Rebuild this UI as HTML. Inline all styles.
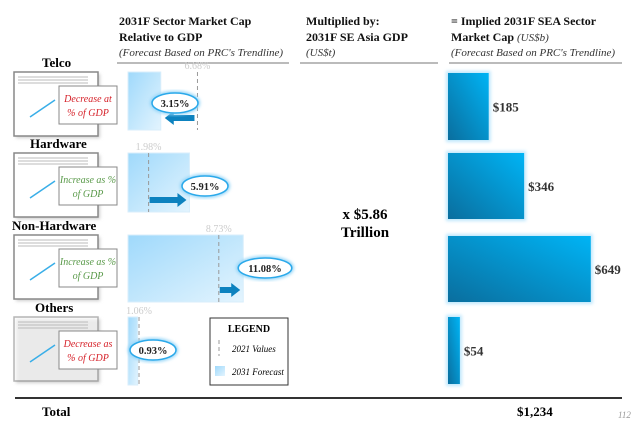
<!DOCTYPE html>
<html><head><meta charset="utf-8"><style>
body{margin:0;background:#fff;width:640px;height:433px;overflow:hidden;font-family:"Liberation Serif",serif}
svg{display:block}
</style></head><body>
<svg width="640" height="433" viewBox="0 0 640 433">
<defs>
<linearGradient id="lg" x1="0" y1="0" x2="1" y2="1"><stop offset="0" stop-color="#9fd9fb"/><stop offset="1" stop-color="#e3f4fe"/></linearGradient>
<linearGradient id="dg" x1="1" y1="0" x2="0" y2="1"><stop offset="0" stop-color="#00b4f5"/><stop offset="1" stop-color="#0a6e9e"/></linearGradient>
<filter id="gl" x="-20%" y="-20%" width="140%" height="140%"><feGaussianBlur stdDeviation="1.5"/></filter>
</defs>
<g font-weight="bold" font-size="12" fill="#111">
<text x="119" y="25">2031F Sector Market Cap</text><text x="119" y="41">Relative to GDP</text>
<text x="119" y="56" font-weight="normal" font-style="italic" font-size="11" fill="#333">(Forecast Based on PRC's Trendline)</text>
<text x="306" y="25">Multiplied by:</text><text x="306" y="41">2031F SE Asia GDP</text>
<text x="306" y="56" font-weight="normal" font-style="italic" font-size="11" fill="#333">(US$t)</text>
<text x="451" y="25">= Implied 2031F SEA Sector</text><text x="451" y="41">Market Cap <tspan font-weight="normal" font-style="italic" font-size="11" fill="#333">(US$b)</tspan></text>
<text x="451" y="56" font-weight="normal" font-style="italic" font-size="11" fill="#333">(Forecast Based on PRC's Trendline)</text>
</g>
<g stroke="#777" stroke-width="1"><line x1="117" y1="63" x2="289" y2="63"/><line x1="300" y1="63" x2="438" y2="63"/><line x1="449" y1="63" x2="622" y2="63"/></g>
<line x1="15" y1="398" x2="622" y2="398" stroke="#333" stroke-width="2"/>
<text x="42" y="416" font-weight="bold" font-size="13">Total</text>
<text x="517" y="416" font-weight="bold" font-size="13">$1,234</text>
<text x="618" y="418" font-style="italic" font-size="9" fill="#999">112</text>
<text x="365" y="219" text-anchor="middle" font-weight="bold" font-size="15">x $5.86</text>
<text x="365" y="237" text-anchor="middle" font-weight="bold" font-size="15">Trillion</text>
<g id="legend">
<rect x="210" y="318" width="78" height="67" fill="#fff" stroke="#333" stroke-width="1"/>
<text x="249" y="332" text-anchor="middle" font-weight="bold" font-size="10">LEGEND</text>
<line x1="219" y1="340" x2="219" y2="356" stroke="#999" stroke-dasharray="4,3"/>
<text x="232" y="352" font-style="italic" font-size="9">2021 Values</text>
<rect x="215" y="366" width="10" height="10" fill="url(#lg)"/>
<text x="232" y="375" font-style="italic" font-size="9">2031 Forecast</text>
</g>
<g id="chart"></g>
</svg>
<script>
const sectors=["Telco","Hardware","Non-Hardware","Others"];
const forecastPct=[3.15,5.91,11.08,0.93];
const valuePct2021=[6.68,1.98,8.73,1.06];
const marketCap=[185,346,649,54];
const trend=["Decrease at","Increase as %","Increase as %","Decrease as"];
const trend2=["% of GDP","of GDP","of GDP","% of GDP"];
const rowTop=[72,153,235,317], rowH=[58,59,67,68], rBot=[140,219,302,384];
const NS="http://www.w3.org/2000/svg";
const g=document.getElementById('chart');
const xp=v=>128+v*10.4, xc=v=>448+v*0.22;
function el(t,a,p){const e=document.createElementNS(NS,t);for(const k in a)e.setAttribute(k,a[k]);(p||g).appendChild(e);return e;}
sectors.forEach((s,i)=>{
 const y=rowTop[i],h=rowH[i];
 const lab=el('text',{x:[42,30,12,35][i],y:y-5,'font-weight':'bold','font-size':13});lab.textContent=s;
 
 
 el('rect',{x:16,y:y+2,width:84,height:64,fill:'#ccc',filter:'url(#gl)'});
 const th=el('rect',{x:14,y:y,width:84,height:64,fill:'#fff',stroke:'#888','stroke-width':1.5,opacity:i==3?0.6:1});
 
 
 for(let k=0;k<3;k++)el('line',{x1:18,y1:y+5+k*3,x2:88,y2:y+5+k*3,stroke:'#bbb','stroke-width':1});
 el('line',{x1:30,y1:y+45,x2:55,y2:y+28,stroke:'#39aee8','stroke-width':1.5});
 const cb=el('rect',{x:59,y:y+14,width:58,height:38,fill:'#fff',stroke:'#888'});
 
 
 const col=(i==1||i==2)?'#5a9a4a':'#d6222a';
 const t1=el('text',{x:88,y:y+30,'text-anchor':'middle','font-style':'italic','font-size':10,fill:col});t1.textContent=trend[i];
 const t2=el('text',{x:88,y:y+44,'text-anchor':'middle','font-style':'italic','font-size':10,fill:col});t2.textContent=trend2[i];
 const b=el('rect',{x:128,y:y,width:xp(forecastPct[i])-128,height:h,fill:'url(#lg)',stroke:'#d8eefb'});
 
 
 const dx=xp(valuePct2021[i]);
 const dl=el('line',{x1:dx,y1:y,x2:dx,y2:y+h,stroke:'#999','stroke-dasharray':'4,3'});
 
 
 const vt=el('text',{x:dx,y:y-3,'text-anchor':'middle','font-size':10,fill:'#ccc'});vt.textContent=valuePct2021[i].toFixed(2)+'%';
 const fx=xp(forecastPct[i]);
 if(Math.abs(fx-dx)>10){
  const ay=y+h-12, dir=fx<dx?-1:1, x0=dir<0?dx-3:dx+1, x1=dir<0?fx+4:fx-3;
  el('path',{d:`M${x0} ${ay-3} L${x1-dir*9} ${ay-3} L${x1-dir*9} ${ay-7} L${x1} ${ay} L${x1-dir*9} ${ay+7} L${x1-dir*9} ${ay+3} L${x0} ${ay+3}Z`,fill:'#0d82bf'});
 }
 const ex=[175,205,265,153][i], ey=[103,186,268,350][i], lbl=forecastPct[i].toFixed(2)+'%';
 el('ellipse',{cx:ex,cy:ey,rx:lbl.length*3.8+4,ry:10,fill:'#fff',stroke:'#8fd3f7','stroke-width':4,filter:'url(#gl)'});
 const e=el('ellipse',{cx:ex,cy:ey,rx:lbl.length*3.8+4,ry:10,fill:'#fff',stroke:'#2ba9ea','stroke-width':1.5});
 
 
 const et=el('text',{x:ex,y:ey+4,'text-anchor':'middle','font-weight':'bold','font-size':10.5,fill:'#222'});et.textContent=lbl;
 const ry=[73,153,236,317][i];
 el('rect',{x:446,y:ry-2,width:xc(marketCap[i])-448+4,height:rBot[i]-ry+4,fill:'#bfe7fc',filter:'url(#gl)'});
 const rb=el('rect',{x:448,y:ry,width:xc(marketCap[i])-448,height:rBot[i]-ry,fill:'url(#dg)'});
 
 
 const rt=el('text',{x:xc(marketCap[i])+4,y:(ry+rBot[i])/2+5,'font-weight':'bold','font-size':13,fill:'#333'});rt.textContent='$'+marketCap[i];
 
 
});
</script>
</body></html>
